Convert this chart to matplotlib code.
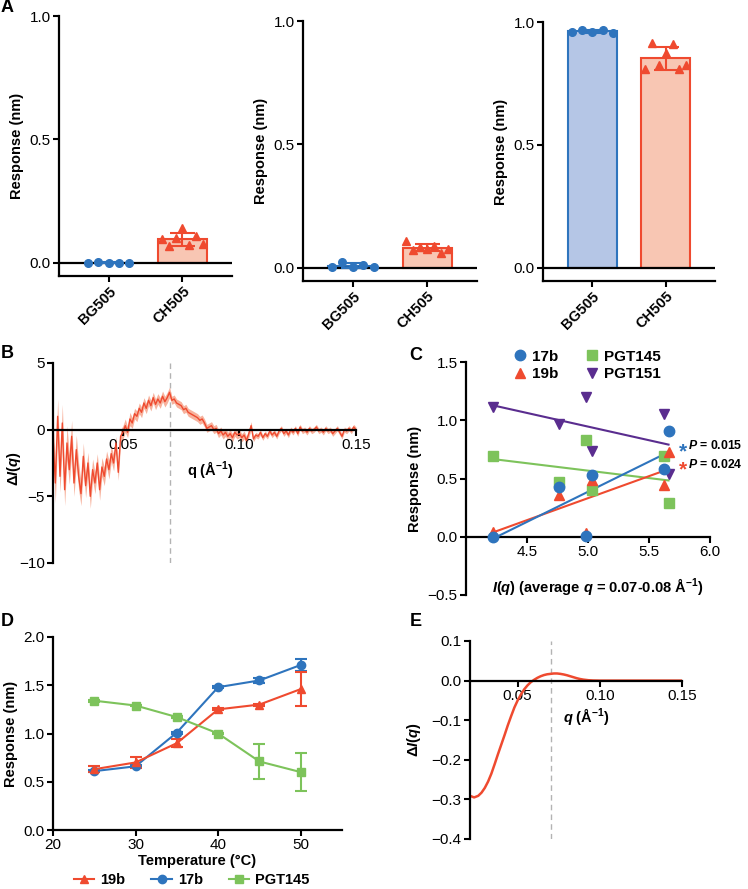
import matplotlib
matplotlib.use("Agg")
import matplotlib.pyplot as plt
import numpy as np

plt.rcParams['font.family'] = ['Liberation Sans', 'DejaVu Sans']
plt.rcParams['mathtext.fontset'] = 'custom'
plt.rcParams['mathtext.it'] = 'Liberation Sans:italic:bold'
plt.rcParams['mathtext.rm'] = 'Liberation Sans:bold'
plt.rcParams['mathtext.bf'] = 'Liberation Sans:bold'
plt.rcParams['axes.linewidth'] = 1.6

# ---------------- data ----------------
groups = ['BG505', 'CH505']
a1_bg505 = [0.0, 0.005, 0.0, 0.0, -0.002]
a1_ch505 = [0.097, 0.067, 0.10, 0.14, 0.074, 0.11, 0.078]
a2_bg505 = [0.004, 0.024, 0.004, 0.011, 0.004]
a2_ch505 = [0.11, 0.074, 0.085, 0.078, 0.088, 0.061, 0.078]
a3_bg505 = [0.959, 0.969, 0.959, 0.969, 0.957]
a3_ch505 = [0.81, 0.915, 0.824, 0.872, 0.912, 0.81, 0.824]

# panel B: difference curve
q_b = np.arange(20, 151) / 1000.0
dI_b = [-0.5, -4.0, 1.0, -3.5, 0.5, -4.5, -1.0, -3.0, -0.5, -4.0,
        -1.5, -3.5, -4.8, -2.0, -4.2, -2.5, -5.0, -3.0, -4.0, -2.5,
        -4.5, -2.8, -3.5, -2.2, -3.0, -1.8, -2.5, -1.0, -3.2, -0.5,
        -0.2, 0.3, -0.2, 0.8, 0.5, 1.2, 1.0, 1.6, 1.3, 2.0,
        1.6, 2.2, 1.8, 2.4, 1.9, 2.3, 2.0, 2.5, 2.1, 2.4,
        2.8, 2.2, 2.3, 2.0, 1.9, 1.8, 1.5, 1.6, 1.3, 1.2,
        1.1, 1.0, 0.9, 0.7, 0.8, 0.5, 0.1, 0.2, 0.3, 0.0,
        0.1, -0.3, -0.1, -0.4, -0.2, -0.5, -0.3, -0.6, -0.2, -0.4,
        -0.3, -0.6, -0.4, -0.8, -0.3, 0.3, -0.7, -0.4, -0.5, -0.2,
        -0.6, -0.3, -0.5, -0.1, -0.4, -0.2, -0.5, -0.1, 0.1, -0.3,
        -0.1, -0.4, 0.0, -0.2, 0.1, -0.3, 0.2, -0.1, 0.0, -0.2,
        0.1, -0.1, 0.0, 0.2, -0.1, 0.0, -0.2, 0.1, -0.1, 0.0,
        -0.3, -0.1, 0.1, -0.2, -0.5, 0.0, -0.1, 0.1, -0.1, 0.2,
        0.0]
err_b = [1.2, 1.5, 1.3, 1.2, 1.4, 1.2, 1.3, 1.1, 1.2, 1.0,
         1.1, 1.0, 0.9, 1.0, 0.9, 0.8, 0.9, 0.8, 0.8, 0.7,
         0.8, 0.7, 0.7, 0.6, 0.7, 0.6, 0.6, 0.5, 0.6, 0.5,
         0.5, 0.5, 0.4, 0.5, 0.4, 0.4, 0.4, 0.4, 0.4, 0.4,
         0.4, 0.4, 0.4, 0.4, 0.4, 0.4, 0.4, 0.4, 0.4, 0.4,
         0.4, 0.3, 0.3, 0.3, 0.3, 0.3, 0.3, 0.3, 0.3, 0.3,
         0.3, 0.3, 0.3, 0.3, 0.3, 0.3, 0.3, 0.3, 0.3, 0.3,
         0.3, 0.3, 0.3, 0.3, 0.3, 0.3, 0.3, 0.3, 0.3, 0.3,
         0.3, 0.3, 0.3, 0.3, 0.3, 0.3, 0.2, 0.2, 0.2, 0.2,
         0.2, 0.2, 0.2, 0.2, 0.2, 0.2, 0.2, 0.2, 0.2, 0.2,
         0.2, 0.2, 0.2, 0.2, 0.2, 0.2, 0.2, 0.2, 0.2, 0.2,
         0.2, 0.2, 0.2, 0.2, 0.2, 0.2, 0.2, 0.2, 0.2, 0.2,
         0.2, 0.2, 0.2, 0.2, 0.2, 0.2, 0.2, 0.2, 0.2, 0.2,
         0.2]

# panel C: response vs I(q)
iq_c = [4.22, 4.76, 4.98, 5.03, 5.62, 5.66]
c_17b = [0.0, 0.43, 0.006, 0.53, 0.58, 0.91]
c_19b = [0.04, 0.36, 0.03, 0.49, 0.44, 0.73]
c_pgt145 = [0.69, 0.47, 0.83, 0.40, 0.69, 0.29]
c_pgt151 = [1.11, 0.97, 1.20, 0.74, 1.05, 0.54]
p_17b = '0.015'
p_19b = '0.024'

# panel D: temperature series
temps = [25, 30, 35, 40, 45, 50]
d_19b = [0.63, 0.70, 0.90, 1.25, 1.30, 1.46]
d_19b_err = [0.03, 0.06, 0.04, 0.01, 0.01, 0.18]
d_17b = [0.61, 0.66, 1.01, 1.48, 1.55, 1.71]
d_17b_err = [0.01, 0.01, 0.01, 0.01, 0.03, 0.065]
d_pgt145 = [1.34, 1.29, 1.17, 1.00, 0.71, 0.60]
d_pgt145_err = [0.01, 0.01, 0.01, 0.01, 0.18, 0.20]

# panel E: smooth model difference
q_e = [0.021, 0.0235, 0.026, 0.028, 0.030, 0.032, 0.034, 0.036, 0.038, 0.040,
       0.042, 0.044, 0.046, 0.048, 0.050, 0.052, 0.054, 0.056, 0.058, 0.060,
       0.062, 0.064, 0.066, 0.068, 0.070, 0.072, 0.074, 0.076, 0.078, 0.080,
       0.082, 0.084, 0.086, 0.088, 0.090, 0.093, 0.096, 0.100, 0.150]
dI_e = [-0.291, -0.295, -0.291, -0.283, -0.271, -0.255, -0.235, -0.211, -0.186, -0.162,
        -0.138, -0.113, -0.090, -0.068, -0.050, -0.035, -0.022, -0.012, -0.004, 0.002,
        0.007, 0.011, 0.014, 0.016, 0.017, 0.018, 0.018, 0.017, 0.0155, 0.0135,
        0.011, 0.0085, 0.006, 0.004, 0.0025, 0.001, 0.0003, 0.0, 0.0]

blue = '#2e74bd'
red = '#ef4a2f'
green = '#7dc35b'
purple = '#5a2d8f'
fill_blue = '#b5c6e6'
fill_red = '#f8c6b3'

W, H = 748, 889
fig = plt.figure(figsize=(W / 100, H / 100), dpi=100)


def px_axes(l, t, r, b):
    return fig.add_axes([l / W, 1 - b / H, (r - l) / W, (b - t) / H])


def style(ax):
    ax.spines['top'].set_visible(False)
    ax.spines['right'].set_visible(False)
    ax.tick_params(direction='out', length=4, width=1.5, labelsize=11, pad=2)


# ---------------- panel A ----------------
a_sets = [(a1_bg505, a1_ch505), (a2_bg505, a2_ch505), (a3_bg505, a3_ch505)]
a_boxes = [(59, 16, 232, 276), (303, 21, 477, 281), (543, 22, 715, 281)]
for (bg, ch), box in zip(a_sets, a_boxes):
    ax = px_axes(*box)
    style(ax)
    means = [np.mean(bg), np.mean(ch)]
    sds = [np.std(bg, ddof=1), np.std(ch, ddof=1)]
    ax.bar([0, 1], means, width=0.66, color=[fill_blue, fill_red],
           edgecolor=[blue, red], linewidth=1.5, zorder=1)
    ax.axhline(0, color='black', lw=1.6, zorder=2)
    for i, (vals, col, mk) in enumerate([(bg, blue, 'o'), (ch, red, '^')]):
        ax.errorbar(i, means[i], yerr=sds[i], fmt='none', ecolor=col,
                    elinewidth=1.5, capsize=9, capthick=1.5, zorder=3)
        xs = i + np.linspace(-0.28, 0.28, len(vals))
        ax.plot(xs, vals, ls='none', marker=mk, color=col, ms=5.5, zorder=4,
                clip_on=False)
    ax.set_xlim(-0.67, 1.67)
    ax.set_ylim(-0.053, 1.0)
    ax.set_yticks([0, 0.5, 1.0])
    ax.set_xticks([0, 1])
    ax.set_xticklabels(groups, rotation=45, ha='right', rotation_mode='anchor',
                       fontweight='bold', fontsize=10.5)
    ax.set_ylabel('Response (nm)', fontweight='bold', fontsize=10.5, labelpad=4)

# ---------------- panel B ----------------
axB = px_axes(53, 363, 356, 563)
style(axB)
dI_b = np.array(dI_b)
err_b = np.array(err_b)
axB.fill_between(q_b, dI_b - err_b, dI_b + err_b, color='#f7b29d', lw=0, zorder=1)
axB.plot(q_b, dI_b, color=red, lw=1.0, zorder=2)
axB.axvline(0.07, color='#b3b3b3', lw=1.0, ls=(0, (4, 3)), zorder=0)
axB.spines['bottom'].set_position(('data', 0))
axB.set_xlim(0.02, 0.15)
axB.set_ylim(-10, 5)
axB.set_yticks([-10, -5, 0, 5])
axB.set_xticks([0.05, 0.10, 0.15])
axB.set_xticklabels(['0.05', '0.10', '0.15'])
axB.set_xlabel(r'q (Å$^{-1}$)', fontweight='bold', fontsize=10.5)
axB.xaxis.set_label_coords(0.52, 0.52)
axB.set_ylabel(r'Δ$I$($q$)', fontweight='bold', fontsize=10.5)
axB.yaxis.set_label_coords(-0.10, 0.47)

# ---------------- panel C ----------------
axC = px_axes(466, 362, 710, 595)
style(axC)
axC.spines['bottom'].set_position(('data', 0))
c_series = [('PGT151', c_pgt151, purple, 'v'), ('PGT145', c_pgt145, green, 's'),
            ('19b', c_19b, red, '^'), ('17b', c_17b, blue, 'o')]
handles = {}
for name, ys, col, mk in c_series:
    slope, icpt = np.polyfit(iq_c, ys, 1)
    xx = np.array([min(iq_c), max(iq_c)])
    axC.plot(xx, slope * xx + icpt, color=col, lw=1.5, zorder=3)
    h, = axC.plot(iq_c, ys, ls='none', marker=mk, color=col, ms=7.5, zorder=4,
                  clip_on=False)
    handles[name] = h
order = ['17b', '19b', 'PGT145', 'PGT151']
axC.legend([handles[n] for n in order], order, ncol=2, loc='center',
           bbox_to_anchor=(0.49, 0.985), frameon=False, handletextpad=0.2,
           columnspacing=1.6, labelspacing=0.25, handlelength=1.2,
           prop={'weight': 'bold', 'size': 11})
axC.set_xlim(4.0, 6.0)
axC.set_ylim(-0.5, 1.5)
axC.set_xticks([4.5, 5.0, 5.5, 6.0])
axC.set_yticks([-0.5, 0, 0.5, 1.0, 1.5])
axC.set_ylabel('Response (nm)', fontweight='bold', fontsize=10.5, labelpad=4)
axC.set_xlabel(r'$I$($q$) (average $q$ = 0.07-0.08 Å$^{-1}$)', fontweight='bold',
               fontsize=10.5)
axC.xaxis.set_label_coords(0.54, 0.08)
for pval, col, yv in [(p_17b, blue, 0.78), (p_19b, red, 0.62)]:
    axC.text(5.78, yv - 0.05, '*', color=col, fontsize=15, fontweight='bold',
             ha='center', va='center', clip_on=False)
    axC.text(5.82, yv, r'$P$ = ' + pval, color='black', fontsize=8.8,
             fontweight='bold', ha='left', va='center', clip_on=False)

# ---------------- panel D ----------------
axD = px_axes(53, 637, 342, 830)
style(axD)
e17 = axD.errorbar(temps, d_17b, yerr=d_17b_err, color=blue, marker='o', ms=6,
                   lw=1.5, capsize=4, capthick=1.5, elinewidth=1.5)
e19 = axD.errorbar(temps, d_19b, yerr=d_19b_err, color=red, marker='^', ms=6,
                   lw=1.5, capsize=4, capthick=1.5, elinewidth=1.5)
e145 = axD.errorbar(temps, d_pgt145, yerr=d_pgt145_err, color=green, marker='s',
                    ms=5.5, lw=1.5, capsize=4, capthick=1.5, elinewidth=1.5)
axD.legend([e19[0], e17[0], e145[0]], ['19b', '17b', 'PGT145'], ncol=3,
           loc='center', bbox_to_anchor=(0.48, -0.26), frameon=False,
           handlelength=1.4, handletextpad=0.4, columnspacing=1.8,
           borderpad=0.2, prop={'weight': 'bold', 'size': 10.5})
axD.set_xlim(20, 55)
axD.set_ylim(0, 2.0)
axD.set_xticks([20, 30, 40, 50])
axD.set_yticks([0, 0.5, 1.0, 1.5, 2.0])
axD.set_xlabel('Temperature (°C)', fontweight='bold', fontsize=10.5, labelpad=1)
axD.set_ylabel('Response (nm)', fontweight='bold', fontsize=10.5, labelpad=4)

# ---------------- panel E ----------------
axE = px_axes(470, 641, 682, 839)
style(axE)
axE.plot(q_e, dI_e, color=red, lw=1.8, zorder=2)
axE.axvline(0.07, color='#b3b3b3', lw=1.0, ls=(0, (4, 3)), zorder=0)
axE.spines['bottom'].set_position(('data', 0))
axE.set_xlim(0.021, 0.15)
axE.set_ylim(-0.4, 0.1)
axE.set_xticks([0.05, 0.10, 0.15])
axE.set_xticklabels(['0.05', '0.10', '0.15'])
axE.set_yticks([-0.4, -0.3, -0.2, -0.1, 0.0, 0.1])
axE.set_xlabel(r'$q$ (Å$^{-1}$)', fontweight='bold', fontsize=10.5)
axE.xaxis.set_label_coords(0.55, 0.67)
axE.set_ylabel(r'Δ$I$($q$)', fontweight='bold', fontsize=10.5, labelpad=6)

# panel letters
for letter, x, y in [('A', 7, 8), ('B', 7, 353), ('C', 416, 356),
                     ('D', 7, 622), ('E', 416, 622)]:
    fig.text(x / W, 1 - y / H, letter, fontsize=13, fontweight='bold',
             ha='center', va='center')

fig.savefig('out.png', dpi=100)
